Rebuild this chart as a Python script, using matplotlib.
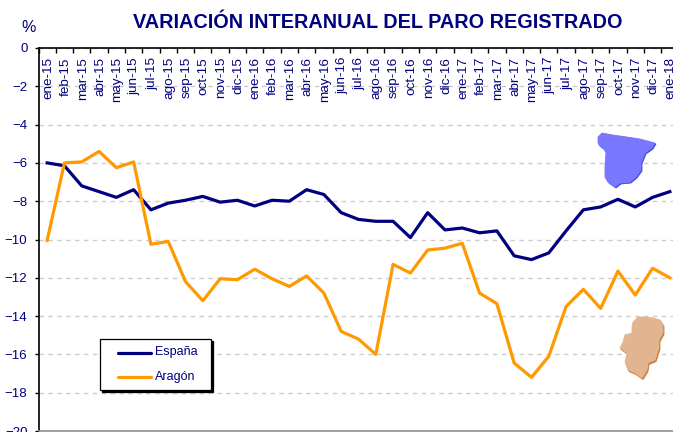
#!/usr/bin/env python3
"""Variacion interanual del paro registrado, Espana y Aragon."""

import matplotlib

matplotlib.use("Agg")
import matplotlib.pyplot as plt
from matplotlib.lines import Line2D
from matplotlib.patches import Polygon, Rectangle

WIDTH, HEIGHT = 673, 432
NAVY = "#000080"
ORANGE = "#FF9900"

months = [
    "ene-15", "feb-15", "mar-15", "abr-15", "may-15", "jun-15", "jul-15", "ago-15", "sep-15",
    "oct-15", "nov-15", "dic-15", "ene-16", "feb-16", "mar-16", "abr-16", "may-16", "jun-16",
    "jul-16", "ago-16", "sep-16", "oct-16", "nov-16", "dic-16", "ene-17", "feb-17", "mar-17",
    "abr-17", "may-17", "jun-17", "jul-17", "ago-17", "sep-17", "oct-17", "nov-17", "dic-17",
    "ene-18",
]
espana = [
    -6.0, -6.15, -7.2, -7.5, -7.8, -7.4, -8.45, -8.1, -7.95,
    -7.75, -8.05, -7.95, -8.25, -7.95, -8.0, -7.4, -7.65, -8.6,
    -8.95, -9.05, -9.05, -9.9, -8.6, -9.5, -9.4, -9.65, -9.55,
    -10.85, -11.05, -10.7, -9.55, -8.45, -8.3, -7.9, -8.3, -7.8,
    -7.5,
]
aragon = [
    -10.05, -6.0, -5.95, -5.4, -6.25, -5.95, -10.25, -10.1, -12.2,
    -13.2, -12.05, -12.1, -11.55, -12.05, -12.45, -11.9, -12.8, -14.8,
    -15.2, -16.0, -11.3, -11.75, -10.55, -10.45, -10.2, -12.8, -13.35,
    -16.45, -17.2, -16.1, -13.5, -12.6, -13.6, -11.65, -12.9, -11.5,
    -12.0,
]
yticks = list(range(0, -21, -2))
series_names = ["España", "Aragón"]

# map silhouettes, in picture pixels
spain_shape = [
    (598, 137), (602, 133), (613, 135), (627, 137), (640, 139), (655, 143), (652, 148),
    (645, 153), (641, 163), (641, 170), (636, 177), (630, 182), (620, 183),
    (615, 187), (608, 182), (605, 177), (605, 165), (606, 153), (604, 149), (599, 145),
    (598, 142),
]
aragon_shape = [
    (633, 322), (638, 317), (647, 317), (653, 318), (660, 320), (663, 325), (663, 333),
    (659, 340), (659, 348), (655, 360), (648, 363), (647, 370), (642, 378), (635, 373),
    (628, 370), (625, 362), (627, 353), (620, 348), (623, 342), (625, 335), (632, 333),
    (632, 327),
]


def fx(x):
    return x / WIDTH


def fy(y):
    return 1 - y / HEIGHT


def pixel_shape(fig, points, color, dx=0, dy=0):
    xy = [(fx(x + dx), fy(y + dy)) for x, y in points]
    fig.add_artist(
        Polygon(xy, closed=True, transform=fig.transFigure, facecolor=color,
                edgecolor=color, linewidth=0.6, zorder=4)
    )


def legend_box(fig):
    # drawn by hand: the frame has more room at the sides than a Legend allows
    for x, y, color in [(102, 341, "black"), (100, 339, "white")]:
        fig.add_artist(
            Rectangle((fx(x), fy(y + 51)), 111 / WIDTH, 51 / HEIGHT, transform=fig.transFigure,
                      facecolor=color, edgecolor="black", linewidth=0.9, zorder=5)
        )
    for y, name, color in zip([352.5, 377], series_names, [NAVY, ORANGE], strict=True):
        fig.add_artist(
            Line2D([fx(118), fx(151)], [fy(y), fy(y)], transform=fig.transFigure,
                   color=color, linewidth=2.3, solid_capstyle="round", zorder=6)
        )
        fig.text(fx(155), fy(y), name, ha="left", va="center", fontsize=9, color=NAVY, zorder=6)


def main() -> int:
    plt.rcParams["font.family"] = ["Liberation Sans", "DejaVu Sans"]
    fig = plt.figure(figsize=(WIDTH / 100, HEIGHT / 100), dpi=100)
    # the plot runs past the right edge of the picture in the original
    ax = fig.add_axes([fx(38.5), fy(431), 640 / WIDTH, 383 / HEIGHT])

    x = range(len(months))
    ax.set_xlim(-0.5, len(months) - 0.5)
    ax.set_ylim(-20, 0)
    ax.yaxis.grid(True, color="#CCCCCC", linestyle=(0, (3.2, 3.2)), linewidth=1.0)
    ax.set_axisbelow(True)

    ax.plot(x, espana, color=NAVY, linewidth=2.3, solid_joinstyle="round", zorder=3)
    ax.plot(x, aragon, color=ORANGE, linewidth=2.3, solid_joinstyle="round", zorder=3)

    ax.spines[["right"]].set_visible(False)
    ax.spines["left"].set(color="black", linewidth=1.2)
    ax.spines["top"].set(color="black", linewidth=1.2)
    ax.spines["bottom"].set(color="#909090", linewidth=1.2)

    ax.set_yticks(yticks)
    ax.tick_params(axis="y", direction="out", length=3, width=1.0, labelsize=9.5,
                   labelcolor=NAVY, pad=5)
    ax.set_xticks([i - 0.5 for i in range(len(months) + 1)], labels=[])
    ax.tick_params(axis="x", top=True, bottom=False, direction="in", length=3.5, width=1.0)
    for i, label in enumerate(months):
        ax.annotate(label, (i, 0), xytext=(1, -9), textcoords="offset pixels", rotation=90,
                    ha="center", va="top", fontsize=9.7, color=NAVY, zorder=2)

    legend_box(fig)

    pixel_shape(fig, spain_shape, "#4848D8", dx=1, dy=1)
    pixel_shape(fig, spain_shape, "#7878FF")
    pixel_shape(fig, aragon_shape, "#C87A34", dx=1, dy=1.5)
    pixel_shape(fig, aragon_shape, "#E2B48F")

    fig.text(fx(378), fy(22), "VARIACIÓN INTERANUAL DEL PARO REGISTRADO",
             ha="center", va="center", fontsize=14.3, fontweight="bold", color=NAVY)
    fig.text(fx(28.5), fy(28), "%", ha="center", va="center", fontsize=11.5, color=NAVY)

    fig.savefig("out.png", dpi=100)
    plt.close(fig)
    return 0


if __name__ == "__main__":
    raise SystemExit(main())
